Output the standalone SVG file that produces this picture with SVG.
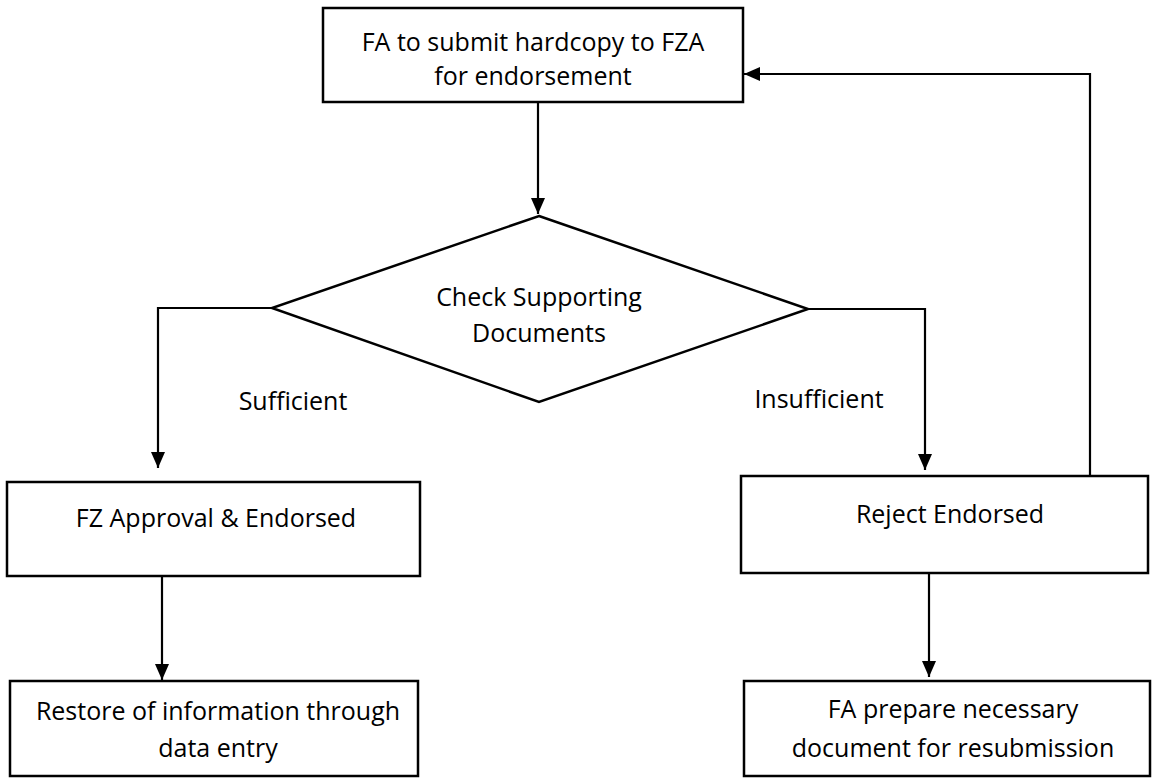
<svg xmlns="http://www.w3.org/2000/svg" width="1154" height="778" viewBox="0 0 1154 778">
<style>
.box{fill:#fff;stroke:#000;stroke-width:2.5}
.t{font-family:"Open Sans","Liberation Sans",sans-serif;font-size:25px;fill:#000;text-anchor:middle}
.c{fill:none;stroke:#000;stroke-width:2.2}
</style>
<defs>
<marker id="ah" markerUnits="userSpaceOnUse" markerWidth="16" markerHeight="14" refX="16" refY="7" orient="auto">
<path d="M0,0 L16,7 L0,14 z" fill="#000"/>
</marker>
</defs>
<rect width="1154" height="778" fill="#fff"/>
<g id="connectors">
<path class="c" d="M538,102 V214" marker-end="url(#ah)"/>
<path class="c" d="M272,308 H158 V468" marker-end="url(#ah)"/>
<path class="c" d="M162,577 V680" marker-end="url(#ah)"/>
<path class="c" d="M808,309 H925 V470" marker-end="url(#ah)"/>
<path class="c" d="M929,573 V677" marker-end="url(#ah)"/>
<path class="c" d="M1090,476 V74 H744" marker-end="url(#ah)"/>
</g>
<g id="submit">
<rect class="box" x="323" y="8" width="420" height="94"/>
<text class="t" x="533" y="51">FA to submit hardcopy to FZA</text>
<text class="t" x="533" y="85">for endorsement</text>
</g>
<g id="check">
<polygon class="box" points="539,216 808,309 539,402 272,308"/>
<text class="t" x="539" y="306">Check Supporting</text>
<text class="t" x="539" y="342">Documents</text>
</g>
<g id="label-sufficient"><text class="t" x="293" y="410">Sufficient</text></g>
<g id="label-insufficient"><text class="t" x="819" y="408">Insufficient</text></g>
<g id="approval">
<rect class="box" x="7" y="482" width="413" height="94"/>
<text class="t" x="216" y="527">FZ Approval &amp; Endorsed</text>
</g>
<g id="reject">
<rect class="box" x="741" y="476" width="407" height="97"/>
<text class="t" x="950" y="523">Reject Endorsed</text>
</g>
<g id="restore">
<rect class="box" x="10" y="681" width="408" height="95"/>
<text class="t" x="218" y="720">Restore of information through</text>
<text class="t" x="218" y="757">data entry</text>
</g>
<g id="prepare">
<rect class="box" x="744" y="681" width="406" height="95"/>
<text class="t" x="953" y="718">FA prepare necessary</text>
<text class="t" x="953" y="757">document for resubmission</text>
</g>
</svg>
